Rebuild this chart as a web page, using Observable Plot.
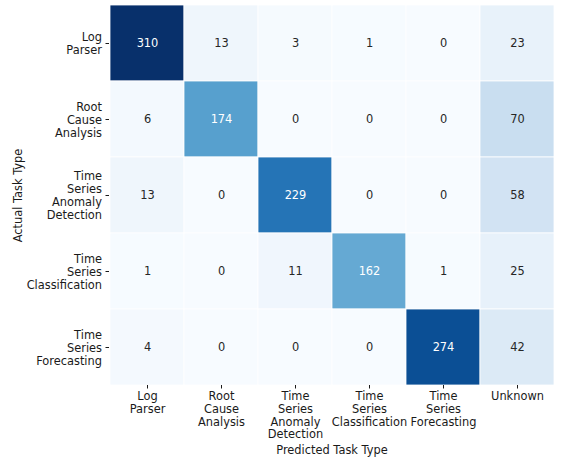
<!DOCTYPE html>
<html>
<head>
<meta charset="utf-8">
<script src="https://cdn.jsdelivr.net/npm/d3@7"></script>
<script src="https://cdn.jsdelivr.net/npm/@observablehq/plot@0.6"></script>
<style>
  html, body { margin: 0; padding: 0; background: #fff; }
  #chart svg { display: block; }
</style>
</head>
<body>
<div id="chart"></div>
<script>
const actualLabels = ["Log Parser", "Root Cause Analysis", "Time Series Anomaly Detection", "Time Series Classification", "Time Series Forecasting"];
const predictedLabels = ["Log Parser", "Root Cause Analysis", "Time Series Anomaly Detection", "Time Series Classification", "Time Series Forecasting", "Unknown"];
const counts = [
  [310, 13, 3, 1, 0, 23],
  [6, 174, 0, 0, 0, 70],
  [13, 0, 229, 0, 0, 58],
  [1, 0, 11, 162, 1, 25],
  [4, 0, 0, 0, 274, 42]
];

const cells = [];
actualLabels.forEach((a, i) => predictedLabels.forEach((p, j) => cells.push({actual: a, predicted: p, value: counts[i][j]})));
const vmax = d3.max(cells, d => d.value);
const wrap = s => s.split(" ").join("\n");
const FS = 11.4;

const chart = Plot.plot({
  width: 561,
  height: 457,
  marginLeft: 109,
  marginRight: 7,
  marginTop: 5,
  marginBottom: 72,
  style: {fontFamily: "DejaVu Sans", fontSize: FS + "px", color: "#1a1a1a"},
  x: {domain: predictedLabels, padding: 0},
  y: {domain: actualLabels, padding: 0},
  color: {type: "linear", scheme: "blues", domain: [0, vmax]},
  marks: [
    Plot.cell(cells, {x: "predicted", y: "actual", fill: "value", stroke: "white", strokeWidth: 0.8}),
    Plot.text(cells, {x: "predicted", y: "actual", text: d => String(d.value), fontSize: FS,
      fill: d => d.value > vmax / 2 ? "white" : "#262626"}),
    Plot.axisX({tickFormat: wrap, tickSize: 3.5, tickPadding: 2.5, fontSize: FS, lineHeight: 1.11,
      label: "Predicted Task Type", labelAnchor: "center", labelOffset: 68, labelArrow: "none"}),
    Plot.axisY({tickFormat: wrap, tickSize: 3.5, tickPadding: 4, fontSize: FS, lineHeight: 1.14,
      label: "Actual Task Type", labelAnchor: "center", labelOffset: 96, labelArrow: "none"})
  ]
});
document.getElementById("chart").appendChild(chart);
</script>
</body>
</html>
